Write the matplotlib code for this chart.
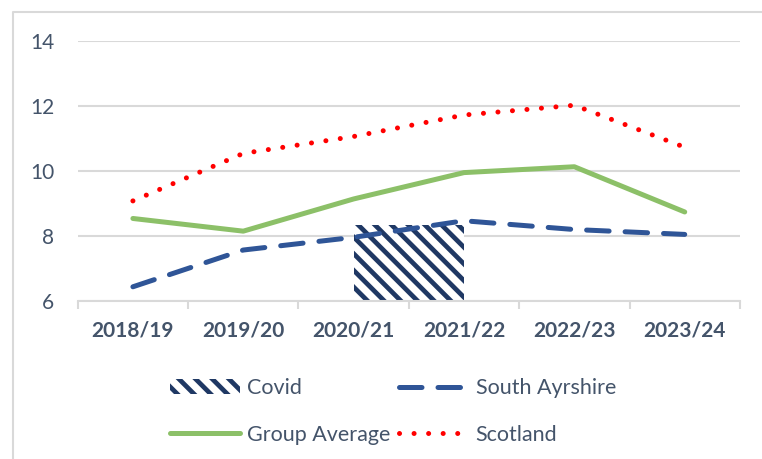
import numpy as np
import matplotlib.pyplot as plt
from matplotlib.patches import Rectangle
from matplotlib.lines import Line2D

years = ["2018/19", "2019/20", "2020/21", "2021/22", "2022/23", "2023/24"]
south_ayrshire = [6.44, 7.57, 7.96, 8.47, 8.20, 8.05]
group_average = [8.54, 8.15, 9.14, 9.95, 10.13, 8.74]
scotland = [9.08, 10.54, 11.06, 11.72, 12.02, 10.73]
covid_years = ["2020/21", "2021/22"]
covid_top = 8.35

txt = "#44546A"
plt.rcParams['font.family'] = ['Lato', 'DejaVu Sans']
plt.rcParams['hatch.linewidth'] = 3.4
plt.rcParams['hatch.color'] = "#1F3864"

fig = plt.figure(figsize=(7.62, 4.59), dpi=100)
ax = fig.add_axes([0.102, 0.344, 0.869, 0.567])

x = np.arange(len(years))
i0 = years.index(covid_years[0])
i1 = years.index(covid_years[1])
ax.bar((i0 + i1) / 2, covid_top - 6, bottom=6, width=i1 - i0,
       facecolor="white", edgecolor="#1F3864", linewidth=0, hatch="\\\\", zorder=2)

dash = (0, (4.5, 3.2))
dots = (0, (0.01, 2.9))
ax.plot(x, south_ayrshire, color="#2F5597", lw=3.6, linestyle=dash,
        dash_capstyle="round", solid_capstyle="round", zorder=3)
ax.plot(x, group_average, color="#8CC068", lw=3.6, solid_capstyle="round", zorder=3)
ax.plot(x, scotland, color="#FF0000", lw=3.6, linestyle=dots,
        dash_capstyle="round", zorder=3)

ax.set_ylim(6, 14)
ax.set_xlim(-0.5, len(years) - 0.5)
ax.set_yticks([6, 8, 10, 12, 14])
ax.yaxis.grid(True, color="#D9D9D9", lw=1.5)
ax.set_axisbelow(True)
for s in ["top", "right", "left"]:
    ax.spines[s].set_visible(False)
ax.spines["bottom"].set_color("#D9D9D9")
ax.spines["bottom"].set_linewidth(1.5)
ax.tick_params(axis="y", length=0, pad=17, labelsize=15, labelcolor=txt)
ax.set_xticks(np.arange(-0.5, len(years), 1.0))
ax.set_xticklabels([])
ax.set_xticks(x, minor=True)
ax.set_xticklabels(years, minor=True, fontsize=15, fontweight="bold", color=txt)
ax.tick_params(axis="x", which="major", length=6, width=1.5, color="#D9D9D9")
ax.tick_params(axis="x", which="minor", length=0, pad=14)

handles = [
    Rectangle((0, 0), 1, 1, facecolor="white", edgecolor="#1F3864", lw=0, hatch="\\\\"),
    Line2D([], [], color="#8CC068", lw=3.6, solid_capstyle="round"),
    Line2D([], [], color="#2F5597", lw=3.6, linestyle=dash, dash_capstyle="round"),
    Line2D([], [], color="#FF0000", lw=3.6, linestyle=dots, dash_capstyle="round"),
]
labels = ["Covid", "Group Average", "South Ayrshire", "Scotland"]
leg = fig.legend(handles, labels, ncol=2, loc="center", bbox_to_anchor=(0.516, 0.103),
                 frameon=False, fontsize=15.5, handlelength=3.25, handletextpad=0.33,
                 labelspacing=1.23, columnspacing=0.37)
for t in leg.get_texts():
    t.set_color(txt)

fig.add_artist(Line2D([13 / 762, 13 / 762, 1], [0, 1 - 12 / 459, 1 - 12 / 459],
                      transform=fig.transFigure, color="#D9D9D9", lw=1.5))

fig.savefig("out.png", dpi=100)
